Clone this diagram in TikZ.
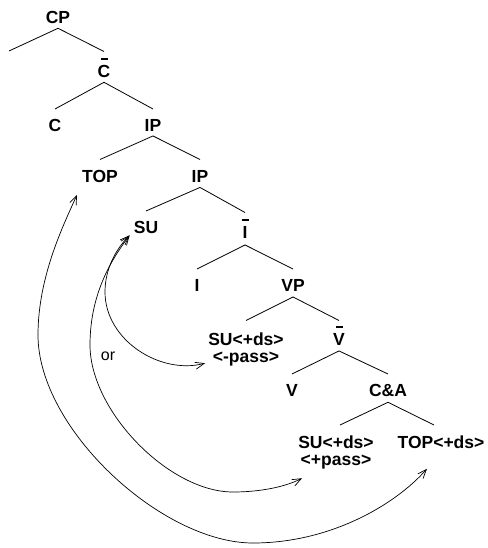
\documentclass[tikz,border=0pt]{standalone}
\usepackage{fontspec}
\setmainfont{Liberation Sans}
\usetikzlibrary{arrows.meta}
\begin{document}
\begin{tikzpicture}[x=1pt,y=-1pt,
  lbl/.style={font=\fontsize{17.5}{17}\selectfont\bfseries, inner sep=0pt, anchor=north, align=center},
  branch/.style={line width=0.8pt},
  barline/.style={line width=1.3pt},
  barb/.tip={Straight Barb[length=9pt,width=7pt]},
  move/.style={line width=0.7pt, barb-barb}]
\useasboundingbox (0,0) rectangle (487,548);

% tree labels
\node[lbl] (cp)    at (58,11.5)  {CP};
\node[lbl] (cbar)  at (104,65.5) {C};
\node[lbl] (c)     at (55,119.5) {C};
\node[lbl] (ipa)   at (153,119.5) {IP};
\node[lbl] (top)   at (100,170)  {TOP};
\node[lbl] (ipb)   at (200,170)  {IP};
\node[lbl] (su)    at (146,221.5) {SU};
\node[lbl] (ibar)  at (245,226.5) {I};
\node[lbl] (i)     at (197,279.5) {I};
\node[lbl] (vp)    at (293,279.5) {VP};
\node[lbl] (sum)   at (246,332.5) {SU<+ds>\\<-pass>};
\node[lbl] (vbar)  at (339,333.5) {V};
\node[lbl] (v)     at (292,384.5) {V};
\node[lbl] (ca)    at (388,384.5) {C\&A};
\node[lbl] (sup)   at (336,435.5) {SU<+ds>\\<+pass>};
\node[lbl] (topds) at (441,435.5) {TOP<+ds>};
\node[font=\fontsize{16}{18}\selectfont, inner sep=0pt, anchor=base] (orlbl) at (108,360) {or};

% bars over the intermediate projections
\foreach \n in {cbar,ibar,vbar}
  \draw[barline] ([xshift=-3.5pt,yshift=6.5pt]\n.north) -- ++(7pt,0);

% branches
\coordinate (cpleft) at (9,51);
\draw[branch] ([yshift=-4pt]cp.south) coordinate (cpa) -- (cpleft);
\draw[branch] (cpa) -- ([yshift=14pt]cbar.north);
\draw[branch] ([yshift=-4pt]cbar.south) coordinate (cba) -- ([yshift=10.5pt]c.north);
\draw[branch] (cba) -- ([yshift=10.5pt]ipa.north);
\draw[branch] ([yshift=-4pt]ipa.south) coordinate (ipaa) -- ([yshift=10.5pt]top.north);
\draw[branch] (ipaa) -- ([yshift=10.5pt]ipb.north);
\draw[branch] ([yshift=-5pt]ipb.south) coordinate (ipba) -- ([yshift=10.5pt]su.north);
\draw[branch] (ipba) -- ([yshift=14pt]ibar.north);
\draw[branch] ([yshift=-6pt]ibar.south) coordinate (iba) -- ([yshift=10.5pt]i.north);
\draw[branch] (iba) -- ([yshift=10.5pt]vp.north);
\draw[branch] ([yshift=-5pt]vp.south) coordinate (vpa) -- ([yshift=12pt]sum.north);
\draw[branch] (vpa) -- ([yshift=13pt]vbar.north);
\draw[branch] ([yshift=-5pt]vbar.south) coordinate (vba) -- ([yshift=10.5pt]v.north);
\draw[branch] (vba) -- ([yshift=10.5pt]ca.north);
\draw[branch] ([yshift=-5pt]ca.south) coordinate (caa) -- ([xshift=4pt,yshift=10.5pt]sup.north);
\draw[branch] (caa) -- ([xshift=-7pt,yshift=10.5pt]topds.north);

% ends of the movement arrows
\coordinate (toptip)   at ([shift={(-5pt,-12pt)}]top.south west);
\coordinate (sutip)    at ([shift={(-4pt,-1pt)}]su.south west);
\coordinate (sumtip)   at ([shift={(-3pt,3pt)}]sum.south west);
\coordinate (suptip)   at ([shift={(4pt,-9pt)}]sup.south west);
\coordinate (topdstip) at ([shift={(-14pt,-20pt)}]topds.south);

% movement arrows
\draw[move] (toptip) .. controls (65,222) and (38,275) .. (38,335)
  .. controls (38,429) and (162,543) .. (253,543)
  .. controls (330,543) and (395,505) .. (topdstip);
\draw[move] (sutip) .. controls (115,255) and (90,290) .. (90,345)
  .. controls (90,411) and (169,492) .. (233,492)
  .. controls (260,492) and (285,487) .. (suptip);
\draw[move] (sutip) .. controls (115,250) and (105,270) .. (105,292)
  .. controls (105,340) and (160,375) .. (sumtip);
\end{tikzpicture}
\end{document}
